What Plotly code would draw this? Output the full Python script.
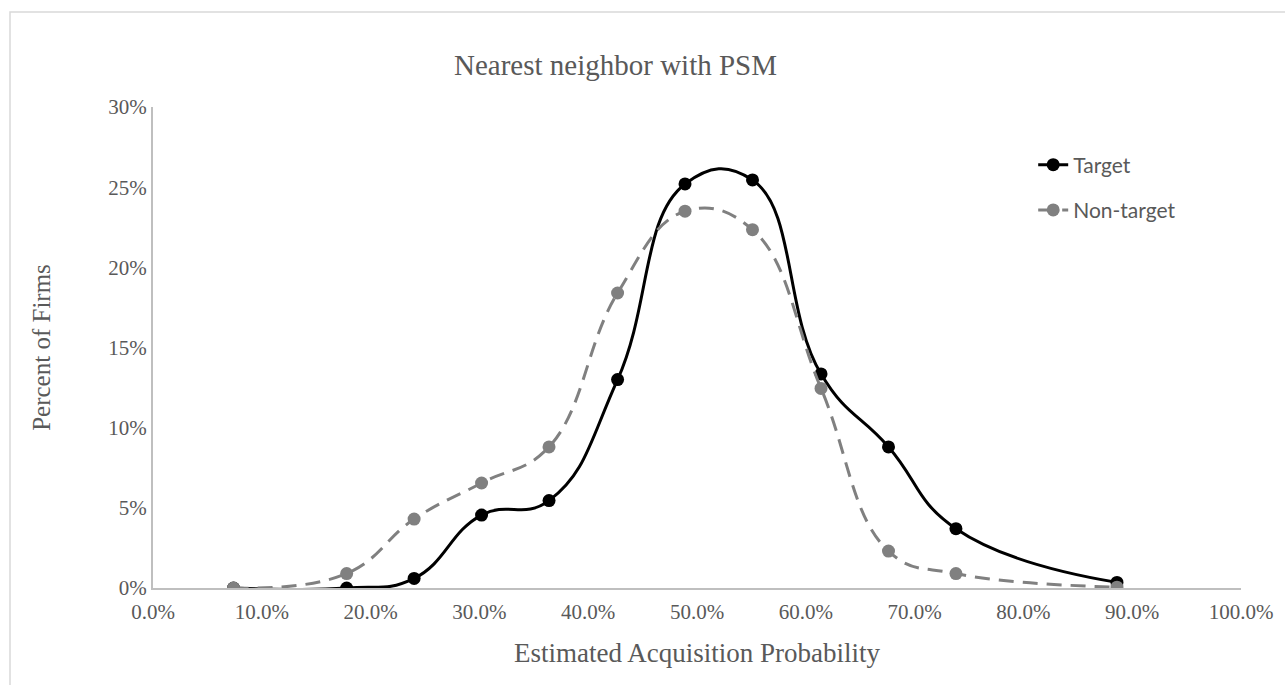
import plotly.graph_objects as go

# Estimated acquisition probability (bin centres, fraction)
prob = [0.074, 0.178, 0.240, 0.302, 0.364, 0.427, 0.489, 0.551, 0.614, 0.676, 0.738, 0.886]
# Percent of firms (fraction)
target = [0.0, 0.0, 0.006, 0.0455, 0.0545, 0.130, 0.252, 0.2545, 0.1335, 0.088, 0.037, 0.0035]
non_target = [0.0, 0.009, 0.043, 0.0655, 0.088, 0.184, 0.235, 0.2235, 0.1245, 0.023, 0.009, 0.0005]

series_names = ["Target", "Non-target"]
x_ticks = [i / 10 for i in range(11)]
y_ticks = [i / 20 for i in range(7)]

SERIF = "Liberation Serif, Times New Roman, serif"
TXT = "#595959"
AXIS = "#bfbfbf"

fig = go.Figure()
fig.add_trace(go.Scatter(
    x=prob, y=target, name=series_names[0], mode="lines+markers",
    line=dict(color="#000000", width=3, shape="spline", smoothing=1.3),
    marker=dict(color="#000000", size=13),
    legendgroup="a",
))
fig.add_trace(go.Scatter(
    x=prob, y=non_target, name=series_names[1], mode="lines+markers",
    line=dict(color="#808080", width=3, shape="spline", smoothing=1.2, dash="15px,9px"),
    marker=dict(color="#808080", size=13),
    legendgroup="b",
))

fig.update_layout(
    width=1285, height=685,
    margin=dict(l=153, r=44, t=107, b=97),
    paper_bgcolor="white", plot_bgcolor="white",
    showlegend=True,
    title=dict(text="Nearest neighbor with PSM", x=0.479, xanchor="center",
               y=0.905, yanchor="middle",
               font=dict(family=SERIF, size=29, color=TXT)),
    legend=dict(x=0.809, y=0.922, xanchor="left", yanchor="top",
                font=dict(family="Lato, Calibri, sans-serif", size=21, color=TXT),
                tracegroupgap=15, bgcolor="rgba(0,0,0,0)"),
    xaxis=dict(range=[0, 1], tickvals=x_ticks, tickformat=".1%",
               showgrid=False, zeroline=False, showline=True, linecolor=AXIS, linewidth=2,
               ticks="", ticklabelstandoff=4, tickfont=dict(family=SERIF, size=21, color=TXT),
               title=dict(text="Estimated Acquisition Probability", standoff=20,
                          font=dict(family=SERIF, size=27, color=TXT))),
    yaxis=dict(range=[0, 0.30], tickvals=y_ticks, tickformat=".0%",
               showgrid=False, zeroline=False, showline=True, linecolor=AXIS, linewidth=2,
               ticks="", tickfont=dict(family=SERIF, size=21, color=TXT),
               title=dict(text="Percent of Firms", standoff=51,
                          font=dict(family=SERIF, size=25, color=TXT))),
    shapes=[dict(type="rect", xref="paper", yref="paper",
                 x0=(10 - 153) / 1088, x1=1.2, y0=-0.5, y1=(588 - 12) / 481,
                 line=dict(color="#d9d9d9", width=1.5), fillcolor="rgba(0,0,0,0)",
                 layer="below")],
)

fig.write_html("out.html")
